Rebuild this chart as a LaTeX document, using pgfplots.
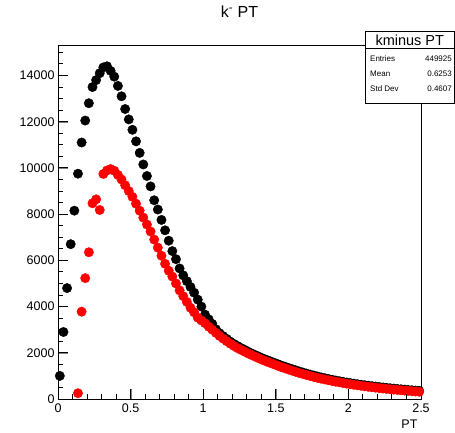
\documentclass[border=0pt]{standalone}
\usepackage{pgfplots}
\pgfplotsset{compat=1.18}
\usepackage{pgfplotstable}
\usepackage{fontspec}
\setmainfont{Liberation Sans}
\pgfplotstableread{
x y
0.0125 1000
0.0375 2900
0.0625 4800
0.0875 6700
0.1125 8150
0.1375 9750
0.1625 11100
0.1875 12050
0.2125 12800
0.2375 13500
0.2625 13800
0.2875 14100
0.3125 14350
0.3375 14400
0.3625 14200
0.3875 13950
0.4125 13550
0.4375 13100
0.4625 12550
0.4875 12100
0.5125 11650
0.5375 11150
0.5625 10650
0.5875 10150
0.6125 9650
0.6375 9200
0.6625 8600
0.6875 8200
0.7125 7750
0.7375 7300
0.7625 6850
0.7875 6400
0.8125 6050
0.8375 5650
0.8625 5350
0.8875 5100
0.9125 4850
0.9375 4600
0.9625 4300
0.9875 4000
1.0125 3650
1.0375 3450
1.0625 3250
1.0875 3020
1.1125 2850
1.1375 2720
1.1625 2600
1.1875 2480
1.2125 2380
1.2375 2290
1.2625 2200
1.2875 2120
1.3125 2040
1.3375 1960
1.3625 1890
1.3875 1820
1.4125 1750
1.4375 1690
1.4625 1630
1.4875 1570
1.5125 1510
1.5375 1450
1.5625 1400
1.5875 1345
1.6125 1290
1.6375 1240
1.6625 1190
1.6875 1145
1.7125 1100
1.7375 1055
1.7625 1015
1.7875 975
1.8125 935
1.8375 900
1.8625 865
1.8875 835
1.9125 800
1.9375 770
1.9625 742
1.9875 715
2.0125 690
2.0375 665
2.0625 640
2.0875 618
2.1125 596
2.1375 576
2.1625 555
2.1875 537
2.2125 518
2.2375 500
2.2625 483
2.2875 466
2.3125 450
2.3375 435
2.3625 420
2.3875 406
2.4125 392
2.4375 378
2.4625 365
2.4875 352
}\blacktab
\pgfplotstableread{
x y
0.1375 250
0.1625 3780
0.1875 5230
0.2125 6350
0.2375 8470
0.2625 8640
0.2875 8180
0.3125 9740
0.3375 9890
0.3625 9950
0.3875 9880
0.4125 9700
0.4375 9500
0.4625 9250
0.4875 9000
0.5125 8750
0.5375 8450
0.5625 8150
0.5875 7850
0.6125 7550
0.6375 7250
0.6625 6900
0.6875 6550
0.7125 6200
0.7375 5850
0.7625 5550
0.7875 5300
0.8125 5000
0.8375 4700
0.8625 4450
0.8875 4200
0.9125 3950
0.9375 3750
0.9625 3520
0.9875 3400
1.0125 3280
1.0375 3130
1.0625 3000
1.0875 2860
1.1125 2730
1.1375 2610
1.1625 2500
1.1875 2390
1.2125 2290
1.2375 2200
1.2625 2120
1.2875 2040
1.3125 1960
1.3375 1890
1.3625 1820
1.3875 1750
1.4125 1680
1.4375 1620
1.4625 1560
1.4875 1500
1.5125 1440
1.5375 1380
1.5625 1330
1.5875 1275
1.6125 1225
1.6375 1175
1.6625 1125
1.6875 1080
1.7125 1035
1.7375 995
1.7625 955
1.7875 915
1.8125 880
1.8375 845
1.8625 810
1.8875 780
1.9125 750
1.9375 720
1.9625 692
1.9875 665
2.0125 640
2.0375 615
2.0625 592
2.0875 570
2.1125 548
2.1375 528
2.1625 508
2.1875 490
2.2125 472
2.2375 455
2.2625 438
2.2875 422
2.3125 406
2.3375 392
2.3625 378
2.3875 364
2.4125 350
2.4375 338
2.4625 325
2.4875 312
}\redtab
\begin{document}
\begin{tikzpicture}
\useasboundingbox (-58pt,-34pt) rectangle (397pt,399pt);
\begin{axis}[
  at={(0,0)}, anchor=south west,
  scale only axis, width=363pt, height=354pt,
  xmin=0, xmax=2.5, ymin=0, ymax=15320,
  clip=false,
  axis line style={line width=0.8pt},
  scaled y ticks=false, scaled x ticks=false,
  xtick={0,0.5,1,1.5,2,2.5},
  ytick={0,2000,4000,6000,8000,10000,12000,14000},
  tick pos=left,
  tick align=inside,
  major tick length=10pt,
  /pgf/number format/assume math mode=true,
  /pgf/number format/1000 sep={},
  ticklabel style={font=\fontsize{12.5}{14}\selectfont},
  xticklabel style={yshift=-1pt},
  xlabel={PT},
  xlabel style={at={(rel axis cs:1,0)}, anchor=north east, yshift=-17pt, font=\fontsize{12.5}{14}\selectfont},
  title={k\textsuperscript{-} PT},
  title style={at={(rel axis cs:0.5,1)}, anchor=base, yshift=21pt, font=\fontsize{16}{18}\selectfont},
]
\addplot[only marks, mark=*, mark size=4.7pt, black, mark options={draw=black, fill=black}] table[x=x,y=y] {\blacktab};
\addplot[only marks, mark=*, mark size=4.7pt, red, mark options={draw=red, fill=red}] table[x=x,y=y] {\redtab};
\end{axis}
% axis ticks (ROOT style, inward, bottom and left only); axis box is 363pt x 354pt
\foreach \v in {0.5,1,1.5,2}{\draw[line width=1pt, black] ({\v*145.2pt},0pt) -- ({\v*145.2pt},10pt);}
\foreach \v in {0.1,0.2,0.3,0.4,0.6,0.7,0.8,0.9,1.1,1.2,1.3,1.4,1.6,1.7,1.8,1.9,2.1,2.2,2.3,2.4}{\draw[line width=1pt, black] ({\v*145.2pt},0pt) -- ({\v*145.2pt},5pt);}
\foreach \v in {2,4,6,8,10,12,14}{\draw[line width=1pt, black] (0pt,{\v*23.107pt}) -- (10pt,{\v*23.107pt});}
\foreach \v in {0.5,1,1.5,2.5,3,3.5,4.5,5,5.5,6.5,7,7.5,8.5,9,9.5,10.5,11,11.5,12.5,13,13.5,14.5,15}{\draw[line width=1pt, black] (0pt,{\v*23.107pt}) -- (5pt,{\v*23.107pt});}
% statistics box
\draw[line width=0.8pt, fill=white] (307.7pt,295.7pt) rectangle (396pt,367.3pt);
\draw[line width=0.6pt] (307.7pt,350.7pt) -- (396pt,350.7pt);
\node[anchor=center, inner sep=0pt, font=\fontsize{14.5}{16}\selectfont] at (351.8pt,359pt) {kminus PT};
\node[anchor=west, inner sep=0pt, font=\fontsize{8}{9}\selectfont] at (312pt,340.7pt) {Entries};
\node[anchor=east, inner sep=0pt, font=\fontsize{8}{9}\selectfont] at (394pt,340.7pt) {449925};
\node[anchor=west, inner sep=0pt, font=\fontsize{8}{9}\selectfont] at (312pt,325.7pt) {Mean};
\node[anchor=east, inner sep=0pt, font=\fontsize{8}{9}\selectfont] at (394pt,325.7pt) {0.6253};
\node[anchor=west, inner sep=0pt, font=\fontsize{8}{9}\selectfont] at (312pt,310.7pt) {Std Dev};
\node[anchor=east, inner sep=0pt, font=\fontsize{8}{9}\selectfont] at (394pt,310.7pt) {0.4607};
\end{tikzpicture}
\end{document}
